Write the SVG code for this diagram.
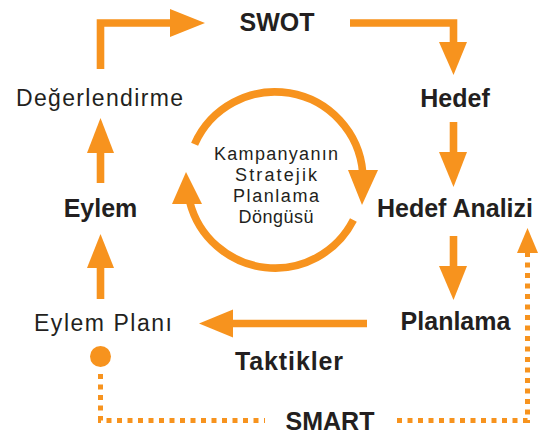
<svg xmlns="http://www.w3.org/2000/svg" width="545" height="434" viewBox="0 0 545 434">
<style>
.ln{fill:none;stroke:#F7931E;stroke-width:7.6;stroke-linejoin:miter;stroke-linecap:butt}
.dt{fill:none;stroke:#F7931E;stroke-width:5;stroke-dasharray:5 5.5}
.hd{fill:#F7931E}
.b{font-family:"Liberation Sans",Arial,sans-serif;font-weight:bold;font-size:25px;fill:#231F20;text-anchor:middle}
.r{font-family:"Liberation Sans",Arial,sans-serif;font-size:23px;fill:#231F20;text-anchor:middle}
.c{font-family:"Liberation Sans",Arial,sans-serif;font-size:18px;fill:#231F20;text-anchor:middle}
</style>
<rect width="545" height="434" fill="#fff"/>
<g id="connectors">
  <polyline class="ln" points="100.5,69 100.5,23 172,23"/>
  <polygon class="hd" points="170,9 205,23 170,37"/>
  <polyline class="ln" points="350,23 453.5,23 453.5,44"/>
  <polygon class="hd" points="439,42 467,42 453.5,75"/>
  <line class="ln" x1="453.5" y1="122" x2="453.5" y2="154"/>
  <polygon class="hd" points="439,152 467,152 453.5,187"/>
  <line class="ln" x1="453.5" y1="236" x2="453.5" y2="268"/>
  <polygon class="hd" points="439,266 467,266 453.5,300"/>
  <line class="ln" x1="367" y1="323.5" x2="231" y2="323.5"/>
  <polygon class="hd" points="233,309.5 233,337.5 199,323.5"/>
  <line class="ln" x1="100.5" y1="299" x2="100.5" y2="266"/>
  <polygon class="hd" points="87,268 114,268 100.5,234"/>
  <line class="ln" x1="100.5" y1="183" x2="100.5" y2="151"/>
  <polygon class="hd" points="87,153 114,153 100.5,118"/>
  <circle class="hd" cx="100.5" cy="356.5" r="10.5"/>
  <polyline class="dt" points="100.5,374 100.5,420.5 265,420.5"/>
  <polyline class="dt" points="397,420.5 527.5,420.5 527.5,252"/>
  <polygon class="hd" points="517,253 538,253 527.5,228"/>
  <path class="ln" d="M194.6,144.2 A88,88 0 0 1 362.7,172.3"/>
  <polygon class="hd" points="348,170 378,170 362,205"/>
  <path class="ln" d="M353.4,220 A88,88 0 0 1 189.6,201.3"/>
  <polygon class="hd" points="172,204 202,204 186,172"/>
</g>
<g id="swot"><text class="b" x="277" y="30.5">SWOT</text></g>
<g id="hedef"><text class="b" x="455" y="107">Hedef</text></g>
<g id="hedef-analizi"><text class="b" x="455" y="217">Hedef Analizi</text></g>
<g id="planlama"><text class="b" x="455.5" y="330">Planlama</text></g>
<g id="taktikler"><text class="b" x="289" y="370" textLength="108" lengthAdjust="spacing">Taktikler</text></g>
<g id="smart"><text class="b" x="330" y="430">SMART</text></g>
<g id="eylem"><text class="b" x="100.5" y="217">Eylem</text></g>
<g id="eylem-plani"><text class="r" x="103" y="331" textLength="138" lengthAdjust="spacing">Eylem Planı</text></g>
<g id="degerlendirme"><text class="r" x="99.5" y="106" textLength="167" lengthAdjust="spacing">Değerlendirme</text></g>
<g id="dongu">
  <text class="c" x="276" y="160" textLength="124" lengthAdjust="spacing">Kampanyanın</text>
  <text class="c" x="276" y="181" textLength="82" lengthAdjust="spacing">Stratejik</text>
  <text class="c" x="276" y="202" textLength="86" lengthAdjust="spacing">Planlama</text>
  <text class="c" x="276" y="223" textLength="75" lengthAdjust="spacing">Döngüsü</text>
</g>
</svg>
